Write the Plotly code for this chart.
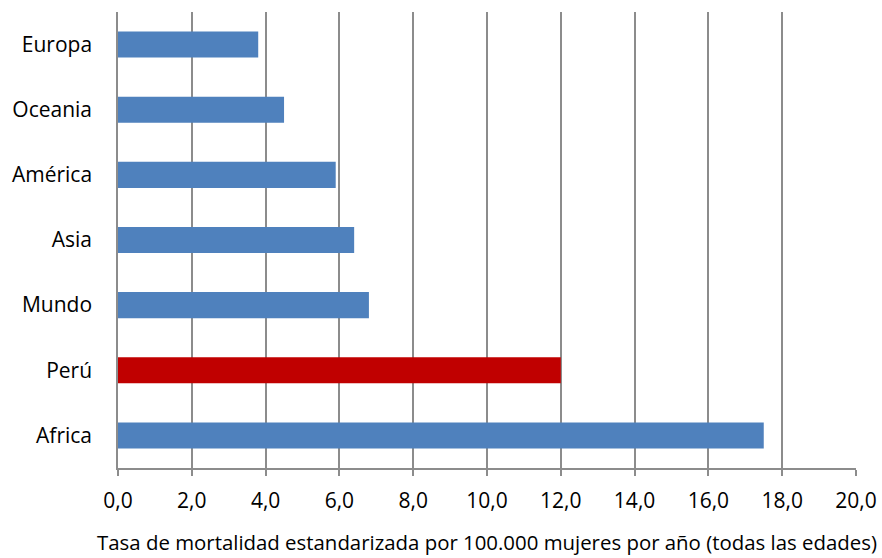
import plotly.graph_objects as go

# Tasa de mortalidad estandarizada por 100.000 mujeres
regiones = ["Europa", "Oceania", "América", "Asia", "Mundo", "Perú", "Africa"]
tasas = [3.8, 4.5, 5.9, 6.4, 6.8, 12.0, 17.5]
colores = ["#C00000" if r == "Perú" else "#4F81BD" for r in regiones]

x_ticks = [0, 2, 4, 6, 8, 10, 12, 14, 16, 18, 20]
x_tick_labels = ["0,0", "2,0", "4,0", "6,0", "8,0", "10,0", "12,0", "14,0", "16,0", "18,0", "20,0"]

font_family = "Open Sans, sans-serif"

fig = go.Figure(
    go.Bar(
        x=tasas,
        y=regiones,
        orientation="h",
        marker=dict(color=colores, line=dict(width=0)),
        width=0.4,
    )
)

fig.update_layout(
    width=882,
    height=558,
    margin=dict(l=118, r=26, t=12, b=90),
    plot_bgcolor="white",
    paper_bgcolor="white",
    showlegend=False,
    font=dict(family=font_family, size=21, color="#000000"),
)

fig.update_xaxes(
    automargin=False,
    range=[0, 20],
    tickvals=x_ticks,
    ticktext=x_tick_labels,
    showgrid=True,
    gridcolor="#8C8C8C",
    gridwidth=1.5,
    showline=True,
    linecolor="#8C8C8C",
    linewidth=1.5,
    ticks="outside",
    ticklen=6,
    tickwidth=1.5,
    tickcolor="#8C8C8C",
    ticklabelstandoff=7,
    tickfont=dict(size=21),
    zeroline=False,
    title=dict(
        text="Tasa de mortalidad estandarizada por 100.000 mujeres por año (todas las edades)",
        font=dict(size=20.4),
        standoff=23,
    ),
)

fig.update_yaxes(
    automargin=False,
    categoryorder="array",
    categoryarray=regiones,
    autorange="reversed",
    showgrid=False,
    showline=True,
    linecolor="#8C8C8C",
    linewidth=1.5,
    ticks="",
    ticklabelstandoff=20,
    tickfont=dict(size=21),
)

fig.write_html("out.html")
